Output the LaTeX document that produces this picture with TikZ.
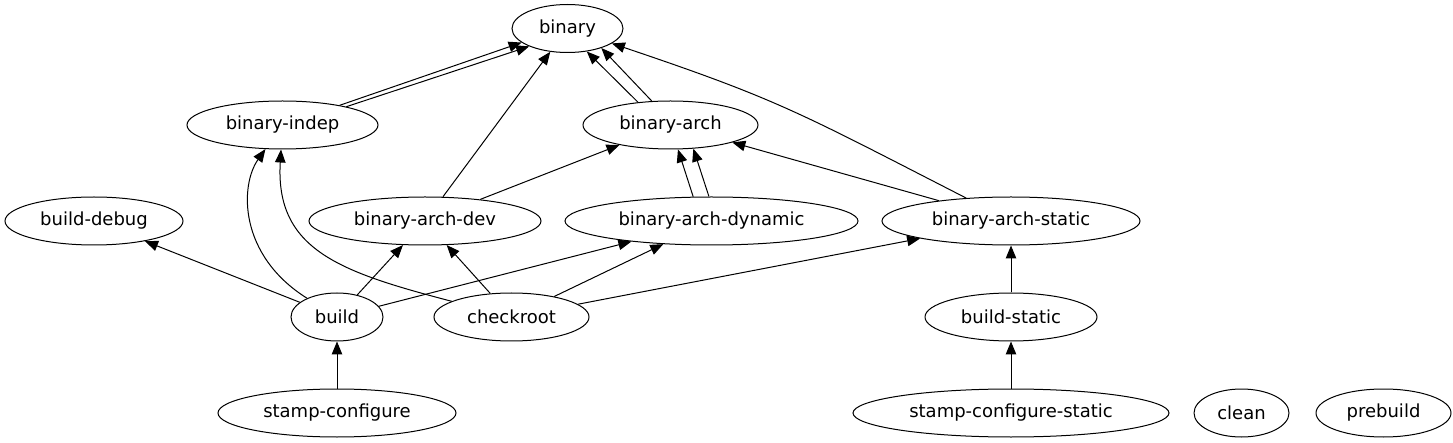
\documentclass[tikz,border=0pt]{standalone}
\usepackage{fontspec}
\setmainfont{DejaVu Sans}
\usepackage{tikz}
\usetikzlibrary{arrows.meta}
\usetikzlibrary{shapes.geometric}

\begin{document}
\begin{tikzpicture}[x=1pt, y=-1pt, line width=1pt, >={Triangle[length=13pt, width=10.5pt]},
	every node/.style={draw, ellipse, inner sep = 0 pt, minimum height=48pt, font=\fontsize{18pt}{21pt}\selectfont}]
	\useasboundingbox (0,0) rectangle (1453,443);
	\node[minimum width=111pt] (binary) at (567.5,28.5) {binary};
	\node[minimum width=191pt] (indep) at (282.5,125) {binary-indep};
	\node[minimum width=175pt] (arch) at (670.5,125) {binary-arch};
	\node[minimum width=178pt] (debug) at (94,221) {build-debug};
	\node[minimum width=232pt] (dev) at (425,221) {binary-arch-dev};
	\node[minimum width=293pt] (dynamic) at (711.5,221) {binary-arch-dynamic};
	\node[minimum width=258pt] (static) at (1011,221) {binary-arch-static};
	\node[minimum width=92pt] (build) at (337,317) {build};
	\node[minimum width=155pt] (checkroot) at (511.5,317) {checkroot};
	\node[minimum width=172pt] (bstatic) at (1011,317) {build-static};
	\node[minimum width=238pt] (stamp) at (337,413) {stamp-configure};
	\node[minimum width=316pt] (sstatic) at (1011,413) {stamp-configure-static};
	\node[minimum width=95pt] (clean) at (1241.5,413) {clean};
	\node[minimum width=135pt] (prebuild) at (1383.5,413) {prebuild};
	\draw[->] (indep.19.9) -- (binary.197.8);
	\draw[->] (indep.16.2) -- (binary.205.3);
	\draw[->] (arch.145.5) -- (binary.310.9);
	\draw[->] (arch.128.2) -- (binary.330.3);
	\draw[->] (dynamic.127.9) -- (arch.287.4);
	\draw[->] (dynamic.96) -- (arch.314.1);
	\draw[->] (static) .. controls (800,113) and (780,100) .. (binary);
	\draw[->] (build) .. controls (238,255) and (240,185) .. (indep);
	\draw[->] (checkroot) .. controls (340,272) and (275,250) .. (indep);
	\draw[->] (dev) -- (binary);
	\draw[->] (dev) -- (arch);
	\draw[->] (static) -- (arch);
	\draw[->] (build) edge (debug) edge (dev) edge (dynamic);
	\draw[->] (checkroot) edge (dev) edge (dynamic) edge (static);
	\draw[->] (bstatic) edge (static) (stamp) edge (build) (sstatic) edge (bstatic);
\end{tikzpicture}
\end{document}
